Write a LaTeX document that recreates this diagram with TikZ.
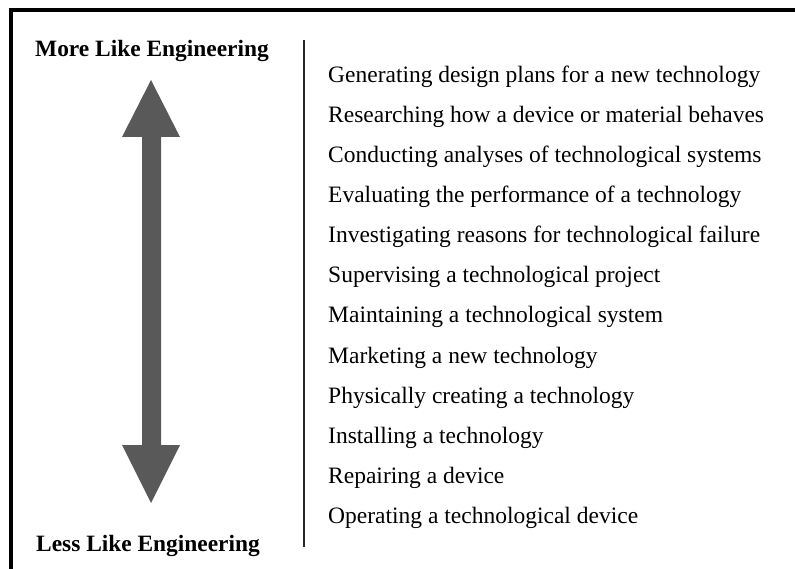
\documentclass[tikz,border=0pt]{standalone}
\usepackage{fontspec}
\setmainfont{Liberation Serif}
\definecolor{arrowgray}{HTML}{595959}
\tikzset{
    item/.style = {anchor = base west, inner sep = 0pt, font = \fontsize{23.5}{28}\selectfont},
    pole/.style = {anchor = base west, inner sep = 0pt, font = \fontsize{23.4}{28}\selectfont\bfseries}
}
\begin{document}
\begin{tikzpicture}[x = 1pt, y = -1pt]
                \useasboundingbox (0, 0) rectangle (795, 569);
                \draw[line width = 4pt] (10.5, 10.5) rectangle (820, 600);
                \draw 
                    node[pole] (more) at (35, 57) {More Like Engineering}
                    node[pole] (less) at (36, 551) {Less Like Engineering}
                    coordinate (top) at (304, 40)
                    coordinate (bottom) at (304, 547);
                \draw[line width = 2pt, black!85] (top) -- (bottom);
                \fill[arrowgray] (151, 80) -- (180, 137) -- (161, 137) -- (161, 445) -- (180, 445)
                    -- (151, 503) -- (122, 445) -- (142, 445) -- (142, 137) -- (122, 137) -- cycle;
                \draw
                    node[item] (i1) at (328, 83) {Generating design plans for a new technology}
                    node[item] (i2) at (328, 123) {Researching how a device or material behaves}
                    node[item] (i3) at (328, 163) {Conducting analyses of technological systems}
                    node[item] (i4) at (328, 203) {Evaluating the performance of a technology}
                    node[item] (i5) at (328, 243) {Investigating reasons for technological failure}
                    node[item] (i6) at (328, 283) {Supervising a technological project}
                    node[item] (i7) at (328, 323) {Maintaining a technological system}
                    node[item] (i8) at (328, 363) {Marketing a new technology}
                    node[item] (i9) at (328, 403) {Physically creating a technology}
                    node[item] (i10) at (328, 443) {Installing a technology}
                    node[item] (i11) at (328, 483) {Repairing a device}
                    node[item] (i12) at (328, 523) {Operating a technological device};
            \end{tikzpicture}
\end{document}
